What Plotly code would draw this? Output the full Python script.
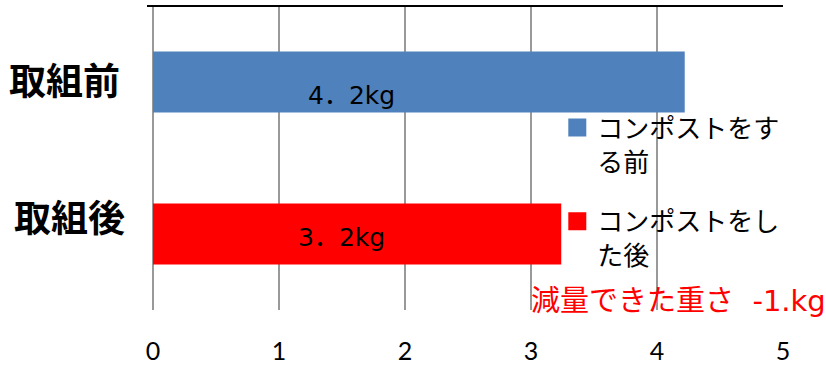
import plotly.graph_objects as go

categories = ["取組前", "取組後"]
values = [4.22, 3.24]
bar_labels = ["4．2kg", "3．2kg"]
legend_names = ["コンポストをす<br>る前", "コンポストをし<br>た後"]
colors = ["#4F81BD", "#FF0000"]
x_ticks = [0, 1, 2, 3, 4, 5]
note_text = "減量できた重さ  -1.kg"

W, H = 826, 366
L, R, T, B = 152.7, 43.3, 5.7, 56
PW, PH = W - L - R, H - T - B

fig = go.Figure()
for cat, v, col in zip(categories, values, colors):
    fig.add_trace(go.Bar(
        x=[v], y=[cat], orientation="h", width=0.4,
        marker=dict(color=col, line=dict(width=0)),
        showlegend=False,
    ))
for i, (name, col) in enumerate(zip(legend_names, colors)):
    fig.add_trace(go.Scatter(
        x=[None], y=[None], mode="markers", name=name,
        legendgroup=f"g{i}",
        marker=dict(symbol="square", size=16, color=col, line=dict(color=col, width=2)),
    ))

annotations = []
cat_shift = [3, 18]
cat_xshift = [-1, 4]
for cat, ys, xs in zip(categories, cat_shift, cat_xshift):
    annotations.append(dict(
        text=f"<b>{cat}</b>", xref="paper", yref="y", x=-88 / PW, y=cat,
        xanchor="center", yanchor="middle", showarrow=False, yshift=ys, xshift=xs,
        font=dict(family="Noto Sans CJK JP", size=37, color="black", weight=900),
    ))
lab_pos = [(1.574, -13), (1.494, -3)]
for cat, txt, (xp, ys) in zip(categories, bar_labels, lab_pos):
    annotations.append(dict(
        text=txt, xref="x", yref="y", x=xp, y=cat, yshift=ys,
        xanchor="center", yanchor="middle", showarrow=False,
        font=dict(family="DejaVu Sans, Noto Sans CJK JP", size=25, color="black"),
    ))
annotations.append(dict(
    text=note_text, xref="paper", yref="paper",
    x=(529 - L) / PW, y=(310 - 301) / PH,
    xanchor="left", yanchor="middle", showarrow=False,
    font=dict(family="DejaVu Sans, Noto Sans CJK JP", size=29, color="#FF0000"),
))

fig.update_layout(
    width=W, height=H,
    margin=dict(l=L, r=R, t=T, b=B, pad=0, autoexpand=False),
    paper_bgcolor="white", plot_bgcolor="white",
    xaxis=dict(
        range=[0, 5], tickvals=x_ticks, ticktext=[str(t) for t in x_ticks],
        showgrid=True, gridcolor="#999999", gridwidth=1.5,
        zeroline=True, zerolinecolor="#999999", zerolinewidth=1.5,
        showline=False, ticks="", ticklabelstandoff=24, automargin=False,
        tickfont=dict(family="Lato", size=25, color="black"),
        fixedrange=True,
    ),
    yaxis=dict(
        categoryorder="array", categoryarray=categories,
        range=[1.5, -0.5], showticklabels=False, showgrid=False,
        zeroline=False, showline=False, ticks="", automargin=False,
    ),
    legend=dict(
        x=(557 - L) / PW, y=(310 - 104) / PH,
        xanchor="left", yanchor="top", valign="top",
        font=dict(family="Noto Sans CJK JP", size=26, color="black"),
        bgcolor="rgba(0,0,0,0)", tracegroupgap=23, itemwidth=30,
    ),
    shapes=[dict(
        type="line", xref="paper", yref="paper",
        x0=-6 / PW, x1=1, y0=1, y1=1,
        line=dict(color="black", width=2.2),
    )],
    annotations=annotations,
)

fig.write_html("out.html")
